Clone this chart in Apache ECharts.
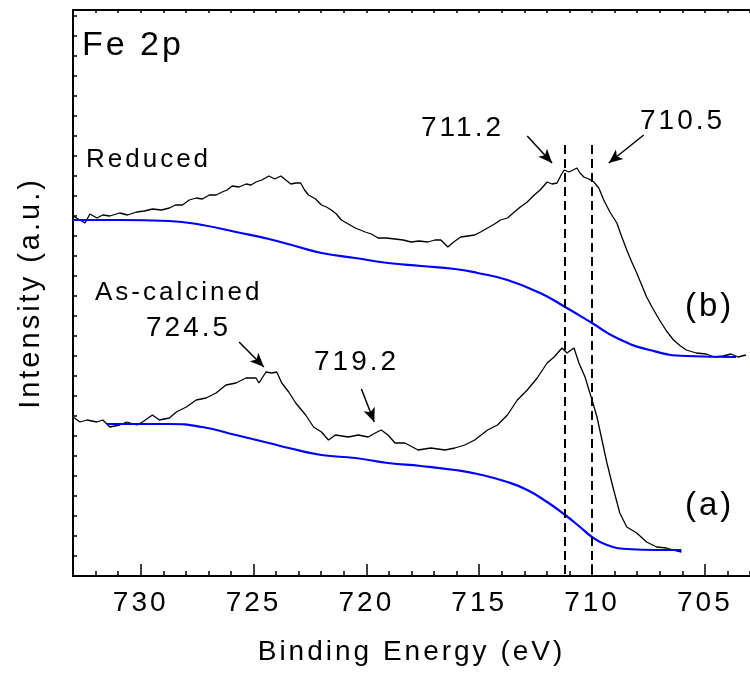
<!DOCTYPE html>
<html>
<head>
    <meta charset="utf-8">
    <title>Fe 2p XPS</title>
    <script src="https://cdn.jsdelivr.net/npm/echarts@6/dist/echarts.min.js"></script>
    <style>
        html, body { margin: 0; padding: 0; background: #fff; }
        #chart { width: 750px; height: 674px; }
    </style>
</head>
<body>
<div id="chart"></div>
<script type="text/javascript">
    // binding energy (eV) / intensity (a.u.)
    var reducedE = [733.00, 732.69, 732.47, 732.25, 731.94, 731.68, 731.37, 730.93, 730.58, 730.18,
        729.83, 729.48, 729.08, 728.73, 728.46, 728.15, 727.85, 727.54, 727.27, 726.96,
        726.66, 726.39, 726.17, 725.95, 725.64, 725.33, 725.11, 724.89, 724.63, 724.32,
        724.06, 723.79, 723.57, 723.35, 723.13, 722.91, 722.74, 722.56, 722.25, 721.99,
        721.77, 721.55, 721.33, 721.11, 720.80, 720.49, 720.27, 720.05, 719.78, 719.48,
        719.13, 718.73, 718.37, 718.02, 717.67, 717.27, 716.96, 716.70, 716.39, 716.13,
        715.82, 715.51, 715.20, 714.94, 714.63, 714.32, 714.06, 713.75, 713.44, 713.18,
        712.87, 712.56, 712.30, 711.99, 711.77, 711.55, 711.37, 711.24, 711.02, 710.84,
        710.67, 710.53, 710.36, 710.14, 709.92, 709.70, 709.48, 709.21, 708.90, 708.68,
        708.46, 708.24, 708.02, 707.80, 707.58, 707.32, 707.01, 706.70, 706.39, 706.08,
        705.82, 705.38, 704.94, 704.59, 704.19, 703.84, 703.53, 703.18];
    var reducedI = [360, 356, 353, 362, 358, 361, 360, 363, 361, 364,
        365, 367, 366, 368, 371, 371, 376, 378, 377, 381,
        381, 384, 386, 390, 389, 392, 391, 394, 396, 400,
        397, 400, 396, 392, 393, 393, 386, 381, 377, 371,
        369, 366, 362, 356, 352, 348, 346, 344, 342, 338,
        338, 337, 336, 334, 335, 334, 336, 336, 329, 334,
        339, 340, 341, 344, 348, 352, 356, 358, 364, 369,
        374, 381, 386, 394, 392, 393, 401, 406, 404, 406,
        408, 403, 399, 397, 394, 388, 376, 364, 353, 339,
        326, 314, 303, 291, 279, 268, 256, 245, 236, 230,
        226, 223, 222, 219, 220, 222, 219, 221];

    var reducedBgE = [733.00, 730.93, 728.73, 727.27, 725.78, 724.32, 723.00, 721.99, 720.49, 719.04,
        717.58, 716.08, 715.07, 713.75, 712.30, 711.19, 710.00, 708.90, 707.45, 705.82, 703.62];
    var reducedBgI = [356, 356, 355, 351, 344, 337, 329, 323, 318, 313,
        310, 307, 303, 296, 283, 269, 253, 238, 226, 220, 219];

    var calcinedE = [733.00, 732.69, 732.38, 731.94, 731.68, 731.37, 730.93, 730.62, 730.18, 729.92,
        729.48, 729.17, 728.73, 728.42, 727.98, 727.54, 727.10, 726.66, 726.22, 725.78,
        725.33, 724.89, 724.76, 724.45, 724.19, 723.97, 723.75, 723.44, 723.13, 722.69,
        722.34, 721.99, 721.68, 721.37, 720.80, 720.36, 719.92, 719.61, 719.34, 719.04,
        718.73, 718.29, 717.71, 717.14, 716.52, 716.08, 715.64, 715.20, 714.63, 714.19,
        713.75, 713.31, 712.87, 712.43, 711.99, 711.68, 711.33, 711.11, 710.80, 710.58,
        710.31, 710.00, 709.78, 709.56, 709.34, 709.04, 708.77, 708.46, 708.02, 707.58,
        707.14, 706.70, 706.39, 706.04];
    var calcinedI = [159, 154, 156, 154, 156, 149, 151, 154, 151, 154,
        161, 156, 158, 164, 169, 176, 178, 183, 191, 193,
        198, 198, 193, 204, 203, 204, 193, 184, 173, 161,
        149, 144, 136, 141, 139, 141, 139, 143, 146, 141,
        133, 133, 126, 128, 126, 128, 131, 136, 146, 151,
        161, 176, 186, 198, 213, 219, 228, 223, 228, 213,
        199, 176, 159, 136, 113, 86, 63, 49, 43, 34,
        29, 28, 26, 24];

    var calcinedBgE = [731.50, 730.05, 728.73, 727.27, 725.78, 724.32, 723.44, 721.99, 720.49, 719.04,
        717.58, 716.08, 715.07, 713.75, 712.87, 711.99, 711.19, 710.53, 710.00, 709.34,
        708.46, 707.14, 706.04];
    var calcinedBgI = [152, 152, 152, 149, 141, 133, 128, 121, 118, 113,
        110, 106, 102, 94, 86, 74, 61, 49, 39, 31,
        27, 26, 26];

    // reference lines and arrows (eV, intensity)
    var peakLines = [711.2, 710.0];
    var arrows = [
        [[712.87, 440], [711.77, 413]],
        [[707.71, 441], [709.26, 413]],
        [[725.64, 234], [724.54, 209]],
        [[720.22, 187], [719.65, 154]]
    ];

    // Origin draws its text with wide letter spacing
    var ctxProto = CanvasRenderingContext2D.prototype;
    var rawFillText = ctxProto.fillText;
    ctxProto.fillText = function () {
        if ('letterSpacing' in this) this.letterSpacing = '3px';
        return rawFillText.apply(this, arguments);
    };

    function zip(xs, ys) {
        var out = [];
        for (var i = 0; i < xs.length; i++) out.push([xs[i], ys[i]]);
        return out;
    }

    var FONT = "'Liberation Sans', Arial, sans-serif";

    function label(text, left, y, size) {
        return {
            type: 'text', x: left, y: y, silent: true,
            style: {
                text: text, fill: '#000',
                font: size + 'px ' + FONT,
                textAlign: 'left', textVerticalAlign: 'middle'
            }
        };
    }

    var myChart = echarts.init(document.getElementById('chart'), null, {renderer: 'canvas'});

    var markLines = [];
    peakLines.forEach(function (e) {
        markLines.push([{coord: [e, 431], symbol: 'none'}, {coord: [e, 0], symbol: 'none',
            lineStyle: {type: [9, 5], width: 2, color: '#000'}}]);
    });
    arrows.forEach(function (a) {
        markLines.push([{coord: a[0], symbol: 'none'}, {coord: a[1], symbol: 'arrow', symbolSize: [9, 14],
            lineStyle: {type: 'solid', width: 1.5, color: '#000'}}]);
    });

    myChart.setOption({
        animation: false,
        backgroundColor: '#fff',
        grid: {left: 73, top: 10, width: 681, height: 566, containLabel: false},
        xAxis: [{
            // minor ticks every 1 eV
            type: 'value', position: 'bottom', inverse: true,
            min: 703, max: 733, interval: 1,
            axisLine: {show: true, onZero: false, lineStyle: {color: '#000', width: 2}},
            axisTick: {show: true, inside: true, length: 5, lineStyle: {color: '#000', width: 1.5}},
            axisLabel: {show: false},
            splitLine: {show: false}
        }, {
            // major ticks and labels
            type: 'value', position: 'bottom', inverse: true,
            min: 703, max: 733, splitNumber: 6,
            axisLine: {show: false, onZero: false},
            axisTick: {show: true, inside: true, length: 12, lineStyle: {color: '#000', width: 1.5}},
            axisLabel: {
                show: true, margin: 13, color: '#000', fontSize: 28, fontFamily: FONT,
                showMinLabel: false, showMaxLabel: false,
                formatter: function (v) { return v % 5 === 0 ? String(v) : ''; }
            },
            splitLine: {show: false},
            name: 'Binding Energy (eV)', nameLocation: 'middle', nameGap: 62,
            nameTextStyle: {color: '#000', fontSize: 28, fontFamily: FONT}
        }, {
            type: 'value', position: 'top', inverse: true,
            min: 703, max: 733, interval: 1,
            axisLine: {show: true, onZero: false, lineStyle: {color: '#000', width: 2}},
            axisTick: {show: true, inside: true, length: 3, lineStyle: {color: '#000', width: 1.5}},
            axisLabel: {show: false},
            splitLine: {show: false}
        }],
        yAxis: {
            type: 'value', min: 0, max: 566, interval: 20,
            axisLine: {show: true, onZero: false, lineStyle: {color: '#000', width: 2}},
            axisTick: {show: true, inside: true, length: 4, lineStyle: {color: '#000', width: 1.5}},
            axisLabel: {show: false},
            splitLine: {show: false},
            name: 'Intensity (a.u.)', nameLocation: 'middle', nameGap: 28,
            nameTextStyle: {color: '#000', fontSize: 29, fontFamily: FONT}
        },
        series: [{
            name: 'Reduced', type: 'line', data: zip(reducedE, reducedI),
            showSymbol: false, lineStyle: {color: '#000', width: 1.3}
        }, {
            name: 'Reduced bg', type: 'line', data: zip(reducedBgE, reducedBgI), smooth: true,
            showSymbol: false, lineStyle: {color: '#0000ff', width: 2.2}
        }, {
            name: 'As-calcined', type: 'line', data: zip(calcinedE, calcinedI),
            showSymbol: false, lineStyle: {color: '#000', width: 1.3}
        }, {
            name: 'As-calcined bg', type: 'line', data: zip(calcinedBgE, calcinedBgI), smooth: true,
            showSymbol: false, lineStyle: {color: '#0000ff', width: 2.2}
        }, {
            name: 'marks', type: 'line', data: [],
            markLine: {silent: true, animation: false, label: {show: false}, data: markLines}
        }],
        graphic: [
            label('Fe 2p', 82, 46, 34),
            label('Reduced', 86, 160, 26),
            label('As-calcined', 95, 293, 26),
            label('724.5', 146, 328, 28),
            label('719.2', 314, 362, 28),
            label('711.2', 421, 128, 28),
            label('710.5', 640, 121, 28),
            label('(b)', 685, 307, 33),
            label('(a)', 685, 506, 33)
        ]
    });
</script>
</body>
</html>
